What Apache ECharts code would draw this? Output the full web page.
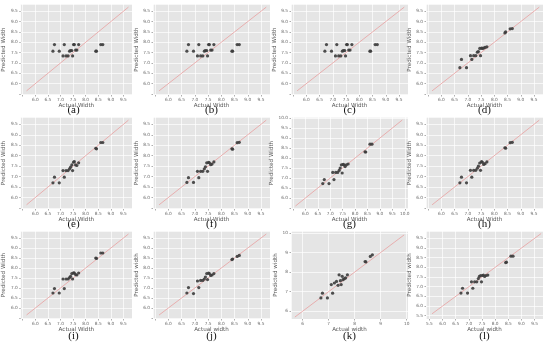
<!DOCTYPE html>
<html><head><meta charset="utf-8">
<script src="https://cdn.jsdelivr.net/npm/echarts@6/dist/echarts.min.js"></script>
<style>html,body{margin:0;padding:0;background:#fff}#c{width:550px;height:344px}</style>
</head><body><div id="c"></div>
<script>
// Shared actual widths (x values) for all panels
const actual = [6.70, 6.76, 6.95, 7.10, 7.15, 7.22, 7.30, 7.36, 7.40, 7.45, 7.48, 7.52, 7.55, 7.60, 7.65, 7.72, 8.40, 8.43, 8.60, 8.68];
// Predicted widths per panel
const predA = [7.57, 7.89, 7.57, 7.34, 7.89, 7.34, 7.34, 7.57, 7.60, 7.60, 7.34, 7.89, 7.89, 7.62, 7.62, 7.89, 7.57, 7.57, 7.89, 7.89];
const predB = [7.57, 7.89, 7.57, 7.34, 7.89, 7.34, 7.34, 7.57, 7.60, 7.60, 7.34, 7.89, 7.89, 7.62, 7.62, 7.89, 7.57, 7.57, 7.89, 7.89];
const predC = [7.57, 7.89, 7.57, 7.34, 7.89, 7.34, 7.34, 7.57, 7.60, 7.60, 7.34, 7.89, 7.89, 7.62, 7.62, 7.89, 7.57, 7.57, 7.89, 7.89];
const predD = [6.77, 7.17, 6.77, 7.35, 7.17, 7.35, 7.35, 7.52, 7.55, 7.70, 7.35, 7.72, 7.70, 7.72, 7.75, 7.78, 8.45, 8.50, 8.65, 8.66];
const predE = [6.70, 6.97, 6.70, 7.29, 6.97, 7.29, 7.29, 7.37, 7.45, 7.56, 7.29, 7.69, 7.72, 7.56, 7.53, 7.66, 8.35, 8.33, 8.63, 8.63];
const predF = [6.72, 6.95, 6.72, 7.25, 6.95, 7.25, 7.25, 7.37, 7.47, 7.66, 7.25, 7.68, 7.66, 7.57, 7.60, 7.70, 8.33, 8.31, 8.62, 8.64];
const predG = [6.72, 6.92, 6.72, 7.28, 6.92, 7.28, 7.28, 7.38, 7.50, 7.66, 7.25, 7.68, 7.66, 7.57, 7.66, 7.70, 8.31, 8.30, 8.69, 8.69];
const predH = [6.70, 6.97, 6.70, 7.30, 6.97, 7.30, 7.30, 7.40, 7.50, 7.65, 7.30, 7.72, 7.68, 7.58, 7.62, 7.70, 8.38, 8.36, 8.62, 8.64];
const predI = [6.75, 6.97, 6.75, 7.45, 6.97, 7.45, 7.45, 7.52, 7.58, 7.72, 7.45, 7.76, 7.74, 7.67, 7.65, 7.75, 8.50, 8.48, 8.75, 8.75];
const predJ = [6.75, 7.02, 6.72, 7.35, 7.02, 7.38, 7.38, 7.45, 7.55, 7.72, 7.42, 7.75, 7.72, 7.63, 7.65, 7.72, 8.42, 8.45, 8.58, 8.63];
const predK = [6.68, 6.92, 6.68, 7.36, 6.92, 7.44, 7.52, 7.32, 7.86, 7.56, 7.36, 7.78, 7.61, 7.66, 7.70, 7.86, 8.54, 8.52, 8.80, 8.88];
const predL = [6.67, 6.92, 6.67, 7.25, 6.92, 7.25, 7.25, 7.42, 7.53, 7.58, 7.25, 7.58, 7.60, 7.53, 7.58, 7.60, 8.25, 8.27, 8.58, 8.58];

const captions = ['(a)','(b)','(c)','(d)','(e)','(f)','(g)','(h)','(i)','(j)','(k)','(l)'];
const preds = [predA,predB,predC,predD,predE,predF,predG,predH,predI,predJ,predK,predL];
const xNames = ['Actual Width','Actual Width','Actual Width','Actual Width','Actual Width','Actual Width','Actual Width','Actual Width','Actual Width','Actual width','Actual width','Actual width'];
const yNames = ['Predicted Width','Predicted Width','Predicted Width','Predicted Width','Predicted Width','Predicted Width','Predicted Width','Predicted Width','Predicted Width','Predicted width','Predicted width','Predicted width'];
// axis ranges [xmin,xmax,ymin,ymax]
const stdR = [5.42, 9.84, 5.45, 9.85];
const ranges = [stdR,stdR,stdR,stdR,stdR,stdR,[5.42,10.13,5.45,10.05],stdR,stdR,stdR,[5.55,10.05,5.6,10.1],[5.37,9.82,5.33,9.88]];
const steps = [0.5,0.5,0.5,0.5,0.5,0.5,0.5,0.5,0.5,0.5,1,0.5];
// lowest labelled tick per panel
const firstLabel = [6,6,6,6,6,6,6,6,6,6,6,5.5];
const lineExt = [[5.65,9.7],[5.65,9.7],[5.65,9.7],[5.65,9.7],[5.65,9.7],[5.65,9.7],[5.6,9.9],[5.65,9.7],[5.65,9.7],[5.65,9.7],[5.7,9.9],[5.6,9.75]];

const cols = [15, 153, 291, 426];
const rowTop = [4, 117, 231];
const rowH = [91, 92, 88];
const capY = [110.5, 224.5, 336];
const PW = 117;

const grid = [], xAxis = [], yAxis = [], series = [], graphic = [];
function fmt(iv, lo){
  return function(v){
    const k = Math.round(v/iv);
    if (Math.abs(k*iv - v) > 1e-6) return '';
    if (v < lo - 1e-6) return '';
    return iv >= 1 ? String(Math.round(v)) : v.toFixed(1);
  };
}
for (let i = 0; i < 12; i++) {
  const r = Math.floor(i/4), c = i%4;
  const rg = ranges[i], iv = steps[i];
  grid.push({left: cols[c], top: rowTop[r], width: PW, height: rowH[r], show: true, backgroundColor: '#E5E5E5', borderWidth: 0});
  const axCommon = {
    gridIndex: i, type: 'value', splitNumber: iv >= 1 ? 5 : 9,
    axisLine: {show: false},
    axisTick: {show: true, length: 1.5, lineStyle: {color: '#777', width: 0.6}},
    splitLine: {show: true, lineStyle: {color: '#FFFFFF', width: 0.7}},
    axisLabel: {fontSize: 4.3, color: '#6a6a6a', margin: 3, fontFamily: 'DejaVu Sans', formatter: fmt(iv, firstLabel[i]), showMinLabel: false, showMaxLabel: false},
    nameLocation: 'middle',
    nameTextStyle: {fontSize: 5.6, color: '#555', fontFamily: 'DejaVu Sans'}
  };
  xAxis.push(Object.assign({}, axCommon, {min: rg[0], max: rg[1], name: xNames[i], nameGap: 7.5}));
  yAxis.push(Object.assign({}, axCommon, {min: rg[2], max: rg[3], name: yNames[i], nameGap: 10.5}));
  const le = lineExt[i];
  series.push({type: 'line', xAxisIndex: i, yAxisIndex: i, data: [[le[0], le[0]], [le[1], le[1]]], symbol: 'none', silent: true,
    lineStyle: {color: '#E8A0A0', width: 0.8}, z: 2});
  series.push({type: 'scatter', xAxisIndex: i, yAxisIndex: i, data: actual.map((a, j) => [a, preds[i][j]]),
    symbol: 'circle', symbolSize: 3.2, itemStyle: {color: '#3c3c3c', opacity: 0.9}, z: 3});
  graphic.push({type: 'text', x: cols[c] + PW/2, y: capY[r], style: {text: captions[i], textAlign: 'center', textVerticalAlign: 'middle', font: '11px "Liberation Serif", "DejaVu Serif", serif', fill: '#111'}});
}
const chart = echarts.init(document.getElementById('c'), null, {renderer: 'canvas'});
chart.setOption({animation: false, backgroundColor: '#fff', grid, xAxis, yAxis, series, graphic});
</script></body></html>
